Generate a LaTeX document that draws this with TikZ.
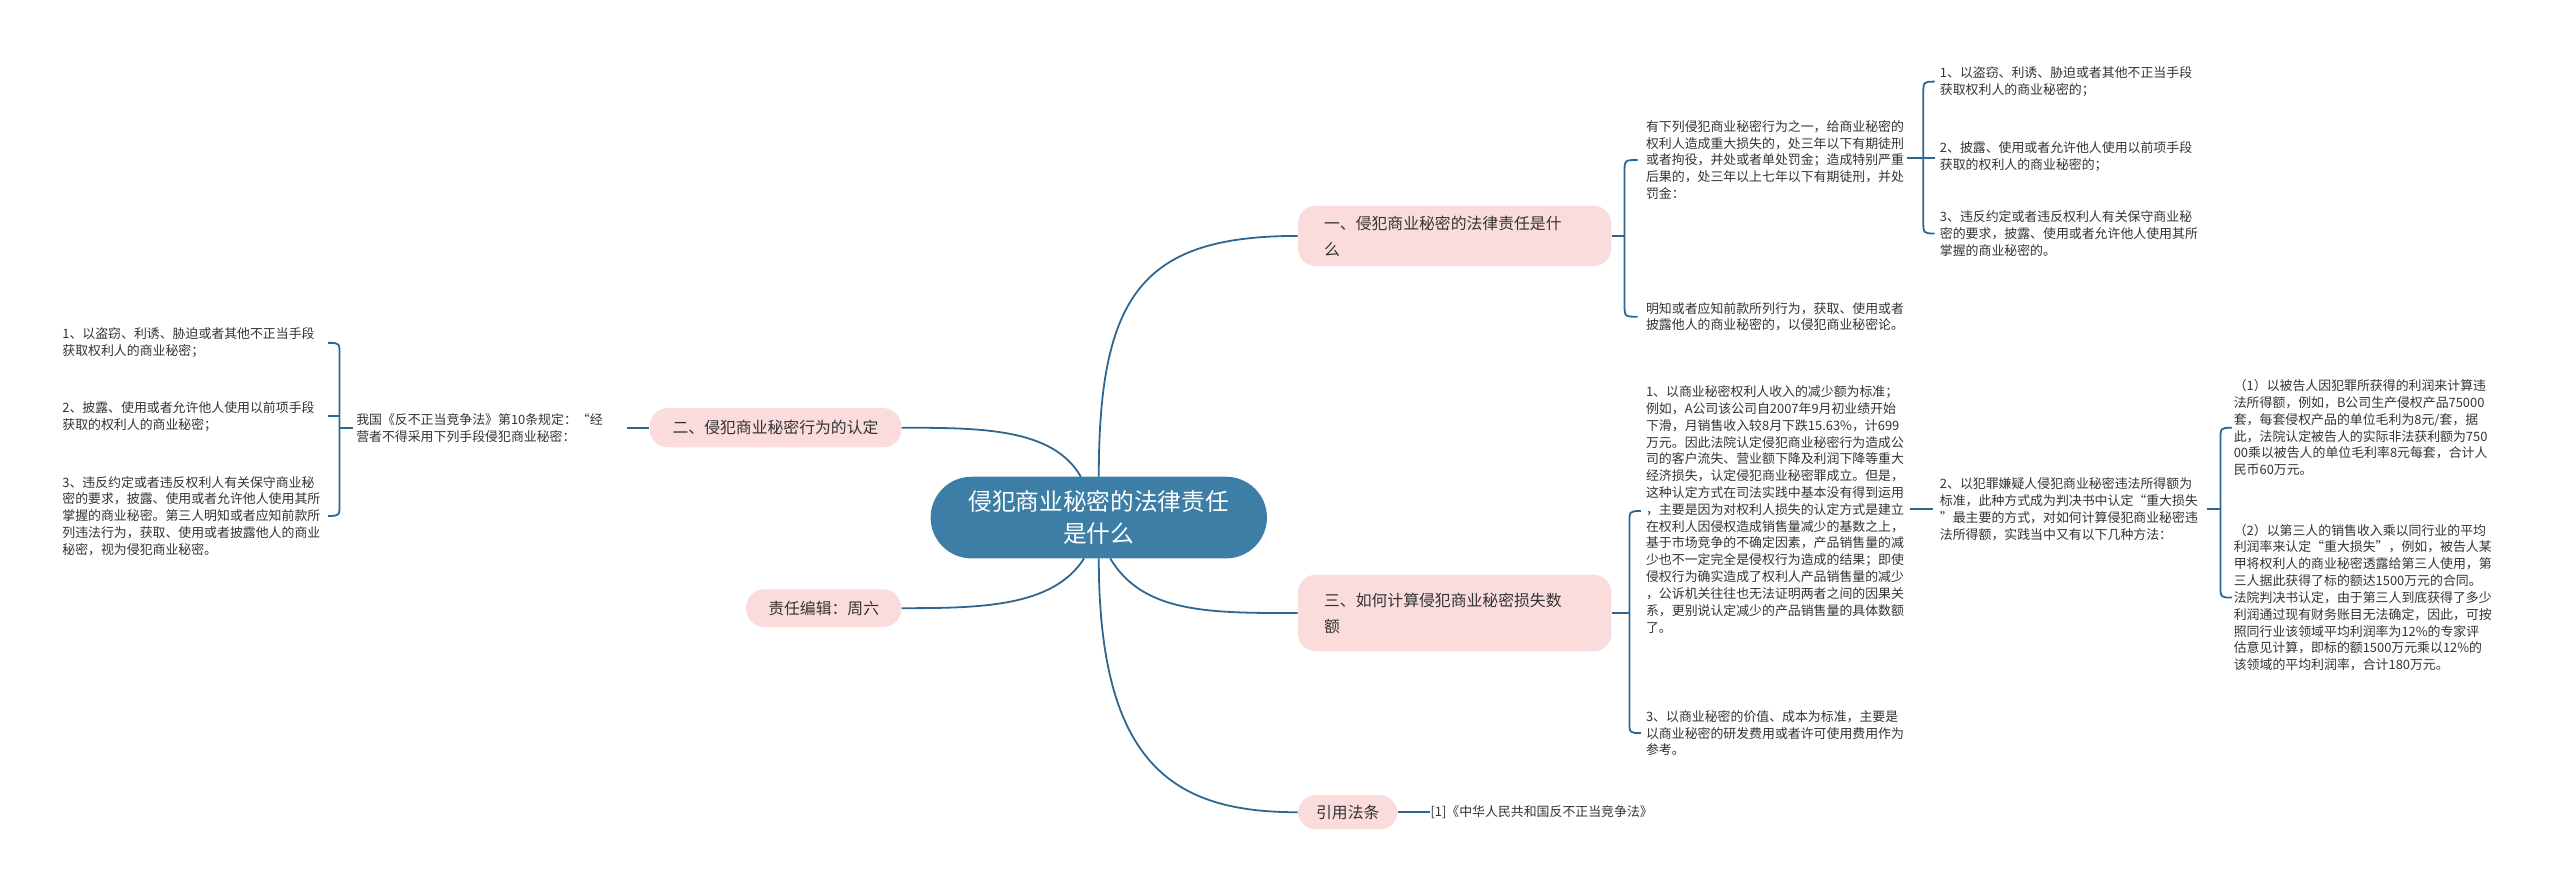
\documentclass[tikz,border=0pt]{standalone}
\usepackage{fontspec}
\setmainfont{Noto Sans CJK SC}
\begin{document}
\begin{tikzpicture}[x=1pt,y=-1pt,
  line/.style={draw=lc,line width=1.1pt},
  leaf/.style={anchor=west,inner sep=0pt,align=left,text=tc,font=\fontsize{7.9}{10.3}\selectfont},
  pinkbox/.style={fill=pk,rounded corners=11pt,inner sep=0pt,text=tc,font=\fontsize{9.7}{16}\selectfont},
]
\definecolor{lc}{HTML}{2F6690}
\definecolor{pk}{HTML}{FBDCDC}
\definecolor{tc}{HTML}{333333}
\definecolor{cb}{HTML}{3D7EA6}
\useasboundingbox (0,0) rectangle (1568,543);
% center
\node[fill=cb,rounded corners=25pt,minimum width=206pt,minimum height=50pt,inner sep=0pt,text=white,align=center,font=\fontsize{14.5}{20}\selectfont] (c) at (673,317) {侵犯商业秘密的法律责任\\是什么};
% branches
\node[pinkbox,minimum width=192pt,minimum height=37pt,text width=160pt,align=left] (b1) at (891,144.5) {一、侵犯商业秘密的法律责任是什\\么};
\node[pinkbox,minimum width=192pt,minimum height=47pt,text width=160pt,align=left] (b3) at (891,375.5) {三、如何计算侵犯商业秘密损失数\\额};
\node[pinkbox,minimum width=61pt,minimum height=21pt,align=center] (b4) at (825.5,497.5) {引用法条};
\node[pinkbox,minimum width=154pt,minimum height=24pt,align=center] (b2) at (475,262) {二、侵犯商业秘密行为的认定};
\node[pinkbox,minimum width=95pt,minimum height=23pt,align=center] (b5) at (504.5,372.5) {责任编辑：周六};
% main connectors
\coordinate (ct) at (673,292);
\coordinate (ctl) at (662,292);
\coordinate (cbm) at (673,342);
\coordinate (cbl) at (664,342);
\coordinate (cbr) at (680,342);
\draw[line] (ct) .. controls (673,180) and (700,144.5) .. (b1.west);
\draw[line] (ctl) .. controls (645,262) and (600,262) .. (b2.east);
\draw[line] (cbl) .. controls (645,372) and (600,372.5) .. (b5.east);
\draw[line] (cbr) .. controls (700,375.5) and (740,375.5) .. (b3.west);
\draw[line] (cbm) .. controls (673,470) and (720,497.5) .. (b4.west);
% branch 1 children
\node[leaf] (a) at (1008,98) {有下列侵犯商业秘密行为之一，给商业秘密的\\权利人造成重大损失的，处三年以下有期徒刑\\或者拘役，并处或者单处罚金；造成特别严重\\后果的，处三年以上七年以下有期徒刑，并处\\罚金：};
\node[leaf] (b) at (1008,194) {明知或者应知前款所列行为，获取、使用或者\\披露他人的商业秘密的，以侵犯商业秘密论。};
\draw[line] (b1.east) -- (995,144.5);
\draw[line] (1003,98) .. controls (995,98) .. (995,106) -- (995,186) .. controls (995,194) .. (1003,194);
\node[leaf] (a1) at (1188,50) {1、以盗窃、利诱、胁迫或者其他不正当手段\\获取权利人的商业秘密的；};
\node[leaf] (a2) at (1188,96) {2、披露、使用或者允许他人使用以前项手段\\获取的权利人的商业秘密的；};
\node[leaf] (a3) at (1188,143) {3、违反约定或者违反权利人有关保守商业秘\\密的要求，披露、使用或者允许他人使用其所\\掌握的商业秘密的。};
\draw[line] (1168,97) -- (1185,97);
\draw[line] (1185,50) .. controls (1178,50) .. (1178,58) -- (1178,135) .. controls (1178,143) .. (1185,143);
% branch 3 children
\node[leaf] (c1) at (1008,312) {1、以商业秘密权利人收入的减少额为标准；\\例如，A公司该公司自2007年9月初业绩开始\\下滑，月销售收入较8月下跌15.63\%，计699\\万元。因此法院认定侵犯商业秘密行为造成公\\司的客户流失、营业额下降及利润下降等重大\\经济损失，认定侵犯商业秘密罪成立。但是，\\这种认定方式在司法实践中基本没有得到运用\\，主要是因为对权利人损失的认定方式是建立\\在权利人因侵权造成销售量减少的基数之上，\\基于市场竞争的不确定因素，产品销售量的减\\少也不一定完全是侵权行为造成的结果；即使\\侵权行为确实造成了权利人产品销售量的减少\\，公诉机关往往也无法证明两者之间的因果关\\系，更别说认定减少的产品销售量的具体数额\\了。};
\node[leaf] (c3) at (1008,449) {3、以商业秘密的价值、成本为标准，主要是\\以商业秘密的研发费用或者许可使用费用作为\\参考。};
\draw[line] (b3.east) -- (998,375.5);
\draw[line] (1005,313) .. controls (998,313) .. (998,321) -- (998,441) .. controls (998,449) .. (1005,449);
\node[leaf] (c2) at (1188,312) {2、以犯罪嫌疑人侵犯商业秘密违法所得额为\\标准，此种方式成为判决书中认定“重大损失\\”最主要的方式，对如何计算侵犯商业秘密违\\法所得额，实践当中又有以下几种方法：};
\draw[line] (1170,312) -- (1184,312);
\node[leaf] (d1) at (1368,262) {（1）以被告人因犯罪所获得的利润来计算违\\法所得额，例如，B公司生产侵权产品75000\\套，每套侵权产品的单位毛利为8元/套，据\\此，法院认定被告人的实际非法获利额为750\\00乘以被告人的单位毛利率8元每套，合计人\\民币60万元。};
\node[leaf] (d2) at (1368,366) {（2）以第三人的销售收入乘以同行业的平均\\利润率来认定“重大损失”，例如，被告人某\\甲将权利人的商业秘密透露给第三人使用，第\\三人据此获得了标的额达1500万元的合同。\\法院判决书认定，由于第三人到底获得了多少\\利润通过现有财务账目无法确定，因此，可按\\照同行业该领域平均利润率为12\%的专家评\\估意见计算，即标的额1500万元乘以12\%的\\该领域的平均利润率，合计180万元。};
\draw[line] (1352,312) -- (1360,312);
\draw[line] (1367,262) .. controls (1360,262) .. (1360,270) -- (1360,358) .. controls (1360,366) .. (1367,366);
% branch 4 child
\node[leaf] (e) at (876,497.5) {[1]《中华人民共和国反不正当竞争法》};
\draw[line] (b4.east) -- (e.west);
% branch 2 children
\node[leaf] (l) at (218,262) {我国《反不正当竞争法》第10条规定：“经\\营者不得采用下列手段侵犯商业秘密：};
\draw[line] (b2.west) -- (384,262);
\node[leaf] (l1) at (38,210) {1、以盗窃、利诱、胁迫或者其他不正当手段\\获取权利人的商业秘密；};
\node[leaf] (l2) at (38,255) {2、披露、使用或者允许他人使用以前项手段\\获取的权利人的商业秘密；};
\node[leaf] (l3) at (38,316) {3、违反约定或者违反权利人有关保守商业秘\\密的要求，披露、使用或者允许他人使用其所\\掌握的商业秘密。第三人明知或者应知前款所\\列违法行为，获取、使用或者披露他人的商业\\秘密，视为侵犯商业秘密。};
\draw[line] (216,262) -- (208,262);
\draw[line] (201,210) .. controls (208,210) .. (208,218) -- (208,308) .. controls (208,316) .. (201,316);
\draw[line] (201,255) -- (208,255);
\end{tikzpicture}
\end{document}
